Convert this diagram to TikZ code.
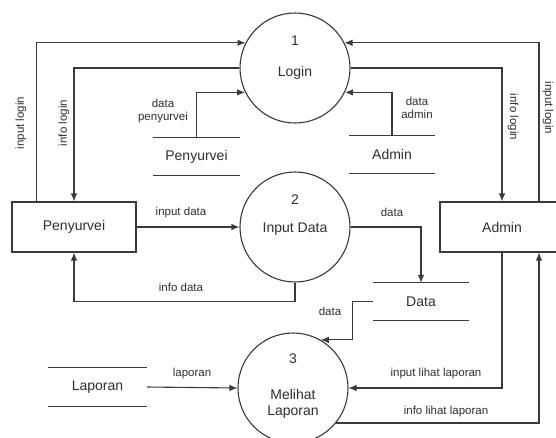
\documentclass[tikz,border=0pt]{standalone}
\usepackage{fontspec}
\setmainfont{Liberation Sans}
\usetikzlibrary{arrows.meta}
\definecolor{ink}{HTML}{3A3A3A}
\tikzset{
  line/.style={draw=ink, line width=1.1pt},
  arr/.style={line, -{Latex[length=8pt,width=6.5pt]}},
  proc/.style={circle, line, minimum size=110pt, inner sep=0pt},
  entity/.style={rectangle, line, minimum width=124pt, minimum height=50pt, inner sep=0pt},
  main/.style={font=\fontsize{14}{16}\selectfont, text=ink!80!black, inner sep=0pt},
  lbl/.style={font=\fontsize{11.5}{13}\selectfont, text=ink!80!black, inner sep=0pt, align=center},
  store/.style={main, minimum height=37pt,
    append after command={
      (\tikzlastnode.north west) edge[line] (\tikzlastnode.north east)
      (\tikzlastnode.south west) edge[line] (\tikzlastnode.south east)}},
}
\begin{document}
\begin{tikzpicture}[x=1pt,y=-1pt]
\useasboundingbox (0,0) rectangle (556,437);

% processes
\node[proc] (p1) at (295,68) {};
\node[main] (p1n) at (295,41) {1};
\node[main] (p1t) at (295,73) {Login};
\node[proc] (p2) at (295,227) {};
\node[main] (p2n) at (295,200) {2};
\node[main] (p2t) at (295,229) {Input Data};
\node[proc] (p3) at (293,388) {};
\node[main] (p3n) at (293,359) {3};
\node[main] (p3t) at (293,394) {Melihat};
\node[main] (p3u) at (293,412) {Laporan};

% external entities
\node[entity] (pen) at (74,227) {};
\node[main] (pent) at (74,227) {Penyurvei};
\node[entity] (adm) at (502,227) {};
\node[main] (admt) at (502,227) {Admin};

% data stores
\node[store, minimum width=87pt] (spen) at (196.5,156.5) {Penyurvei};
\node[store, minimum width=86pt] (sadm) at (392,154.5) {Admin};
\node[store, minimum width=96pt] (ds) at (421,301.5) {Data};
\node[store, minimum width=99pt, minimum height=38pt] (slap) at (97.5,387) {Laporan};

% login flows
\draw[arr] ([xshift=25pt]pen.north west) |- (p1.153);
\draw[arr] (p1.west) -| (pen.north);
\draw[arr] (spen.north) |- (p1.206);
\draw[arr] (sadm.north) |- (p1.334);
\draw[arr] ([xshift=37pt]adm.north) |- (p1.27);
\draw[arr] (p1.east) -| (adm.north);

% input data flows
\draw[arr] (pen.east) -- (p2.west);
\draw[arr] (p2.south) -- ++(0,19) -| (pen.south);
\draw[arr] (p2.east) -| (ds.north);
\draw[arr] (ds.west) -- ++(-20,0) |- (p3.60);

% report flows
\draw[arr] (slap.east) -- (p3.west);
\draw[arr] (adm.south) |- (p3.east);
\draw[arr] (p3.321) -| ([xshift=37pt]adm.south);

% flow labels
\node[lbl, rotate=90] (l1) at (21,123) {input login};
\node[lbl, rotate=90] (l2) at (64,123) {info login};
\node[lbl] (l3) at (163,111) {data\\penyurvei};
\node[lbl] (l4) at (417,108) {data\\admin};
\node[lbl, rotate=-90] (l5) at (513,117) {info login};
\node[lbl, rotate=-90] (l6) at (548,108) {input login};
\node[lbl] (l7) at (181,213) {input data};
\node[lbl] (l8) at (181,287) {info data};
\node[lbl] (l9) at (392,212) {data};
\node[lbl] (l10) at (330,311) {data};
\node[lbl] (l11) at (192,374) {laporan};
\node[lbl] (l12) at (436,374) {input lihat laporan};
\node[lbl] (l13) at (446,412) {info lihat laporan};
\end{tikzpicture}
\end{document}
